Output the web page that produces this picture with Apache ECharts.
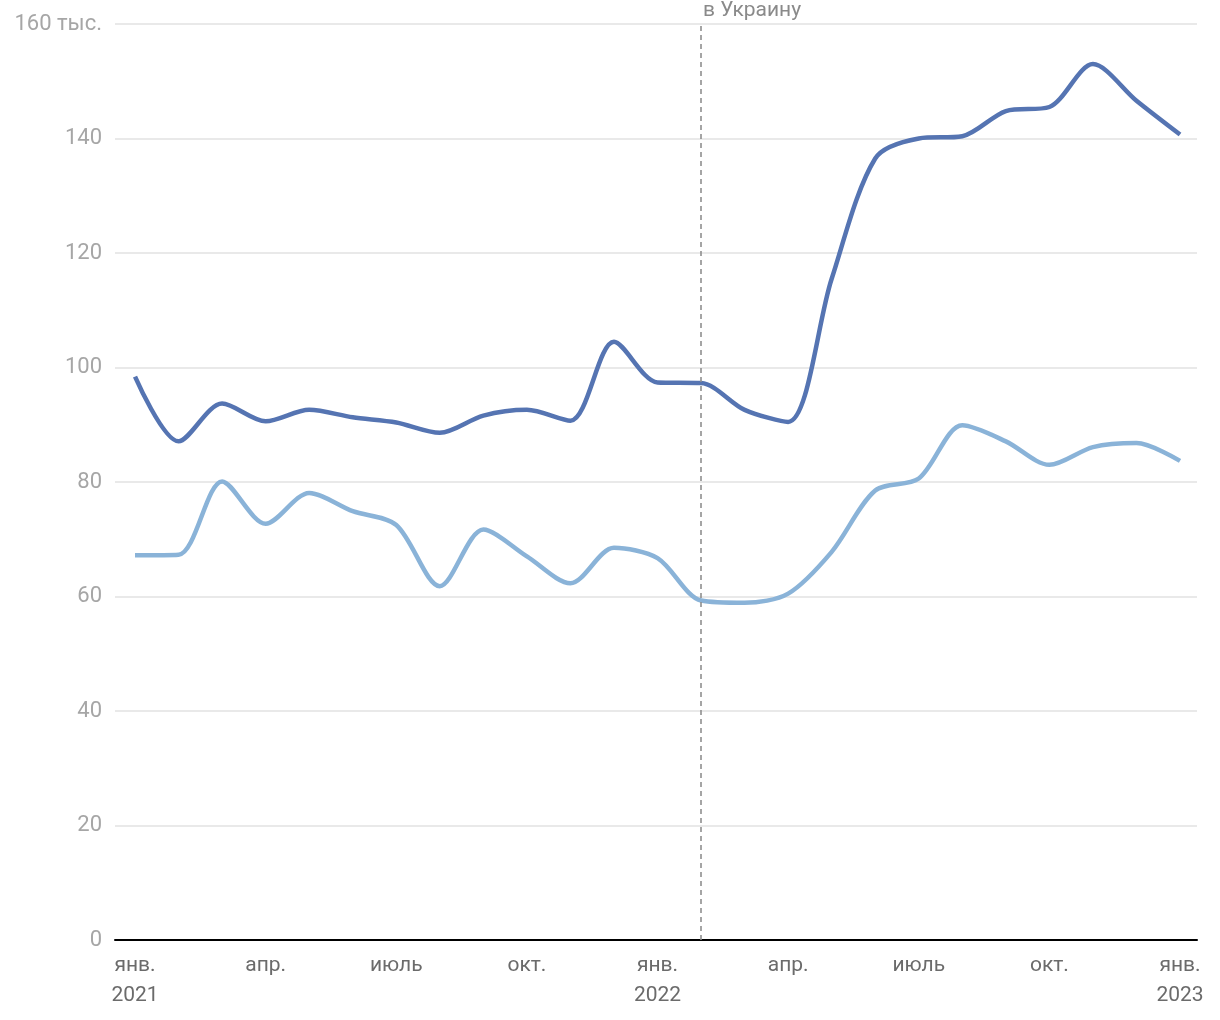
<!DOCTYPE html>
<html><head><meta charset="utf-8">
<script src="https://cdn.jsdelivr.net/npm/echarts@6/dist/echarts.min.js"></script>
<style>html,body{margin:0;padding:0;background:#fff}#c{width:1220px;height:1020px}</style>
</head><body><div id="c"></div>
<script>
// Months Jan 2021 .. Jan 2023 (index 0..24)
const months = ['янв. 2021','фев.','мар.','апр.','май','июнь','июль','авг.','сен.','окт.','нояб.','дек.',
  'янв. 2022','фев.','мар.','апр.','май','июнь','июль','авг.','сен.','окт.','нояб.','дек.','янв. 2023'];
const seriesDark = [98.4, 87.1, 93.7, 90.6, 92.6, 91.3, 90.4, 88.6, 91.6, 92.6, 90.7, 104.5,
  97.4, 97.3, 92.6, 90.5, 115.5, 136.5, 140.0, 140.4, 144.8, 145.5, 153.0, 146.6, 140.7];
const seriesLight = [67.2, 67.3, 80.1, 72.7, 78.1, 74.9, 72.5, 61.8, 71.7, 67.0, 62.3, 68.5,
  66.7, 59.3, 58.9, 60.5, 67.8, 78.5, 80.6, 89.9, 87.1, 83.0, 86.1, 86.8, 83.7];
const xTickPositions = [0, 3, 6, 9, 12, 15, 18, 21, 24];
const xTickLabels = ['янв.\n2021','апр.','июль','окт.','янв.\n2022','апр.','июль','окт.','янв.\n2023'];
const yTicks = [0, 20, 40, 60, 80, 100, 120, 140, 160];
const yTickLabels = ['0','20','40','60','80','100','120','140','160 тыс.'];
const eventIndex = 13; // фев. 2022
const eventLabel = 'в Украину';

const chart = echarts.init(document.getElementById('c'), null, {renderer: 'canvas'});
const toPts = arr => arr.map((v, i) => [i, v]);
chart.setOption({
  animation: false,
  textStyle: {fontFamily: 'Roboto'},
  grid: {left: 115, right: 23, top: 24, bottom: 80, containLabel: false},
  xAxis: {
    type: 'value', min: -0.46, max: 24.39,
    axisLine: {show: true, lineStyle: {color: '#000', width: 2}},
    axisTick: {show: false},
    splitLine: {show: false},
    axisLabel: {
      customValues: xTickPositions,
      formatter: v => xTickLabels[xTickPositions.indexOf(Math.round(v))] || '',
      color: '#6b6b6b', fontSize: 21, lineHeight: 30, margin: 11
    }
  },
  yAxis: {
    type: 'value', min: 0, max: 160, interval: 20,
    axisLine: {show: false}, axisTick: {show: false},
    splitLine: {lineStyle: {color: '#e2e2e2', width: 1.5}},
    axisLabel: {
      formatter: v => yTickLabels[yTicks.indexOf(v)],
      color: '#a6a6a6', fontSize: 22, margin: 13
    }
  },
  series: [
    {
      type: 'line', name: 'dark', data: toPts(seriesDark), smooth: 0.3,
      symbol: 'none', lineStyle: {color: '#5574b2', width: 4.5}, z: 3,
      markLine: {
        symbol: 'none', silent: true,
        label: {show: false},
        lineStyle: {color: '#8f8f8f', type: [5, 4], width: 1.6},
        data: [{xAxis: eventIndex}]
      }
    },
    {
      type: 'line', name: 'light', data: toPts(seriesLight), smooth: 0.3,
      symbol: 'none', lineStyle: {color: '#8ab3d8', width: 4.5}, z: 2
    }
  ],
  graphic: [{
    type: 'text', left: 703, top: 0,
    style: {text: eventLabel, fill: '#8a8a8a', fontSize: 21, fontFamily: 'Roboto'}
  }]
});
</script></body></html>
